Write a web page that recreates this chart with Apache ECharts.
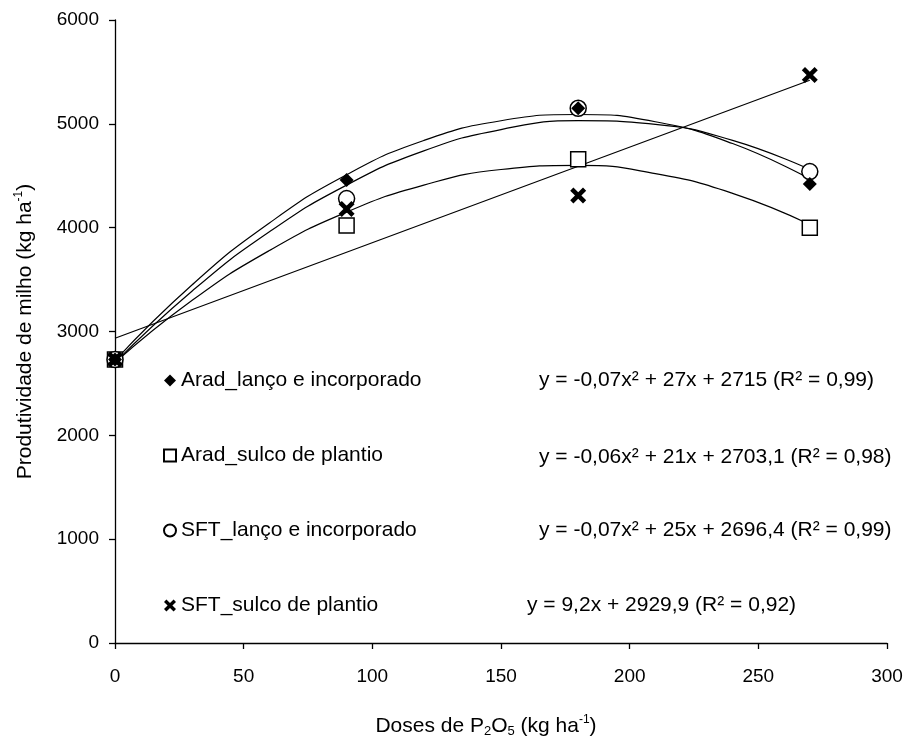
<!DOCTYPE html>
<html>
<head>
<meta charset="utf-8">
<script src="https://cdn.jsdelivr.net/npm/echarts@6/dist/echarts.min.js"></script>
<style>
  html, body { margin: 0; padding: 0; background: #fff; }
  #chart { width: 909px; height: 743px; }
</style>
</head>
<body>
<div id="chart"></div>
<script>
// Observed yields (kg/ha) per P2O5 dose
const doses = [0, 90, 180, 270];
const aradLanco = [2730, 4460, 5150, 4420];
const aradSulco = [2730, 4020, 4660, 4000];
const sftLanco = [2730, 4280, 5150, 4540];
const sftSulco = [2730, 4180, 4310, 5470];

// Trend curves
const trendX = [0, 30, 60, 90, 120, 150, 180, 210, 240, 270];
const trendAradLanco = [2720, 3450, 4045, 4510, 4840, 5030, 5090, 5020, 4810, 4470];
const trendAradSulco = [2700, 3300, 3780, 4150, 4410, 4560, 4600, 4520, 4330, 4030];
const trendSftLanco = [2700, 3390, 3960, 4410, 4740, 4945, 5030, 4995, 4840, 4560];
const lineX = [0, 270];
const trendSftSulco = [2935, 5420];

const seriesNames = [
  "Arad_lanço e incorporado",
  "Arad_sulco de plantio",
  "SFT_lanço e incorporado",
  "SFT_sulco de plantio",
];
const equations = [
  "y = -0,07x² + 27x + 2715 (R² = 0,99)",
  "y = -0,06x² + 21x + 2703,1 (R² = 0,98)",
  "y = -0,07x² + 25x + 2696,4 (R² = 0,99)",
  "y = 9,2x + 2929,9 (R² = 0,92)",
];

const FONT = "Liberation Sans, Arial, sans-serif";
const crossPath = "path://M2,0 L5,3 L8,0 L10,2 L7,5 L10,8 L8,10 L5,7 L2,10 L0,8 L3,5 L0,2 Z";

const pairs = (xs, ys) => ys.map((v, i) => [xs[i], v]);

function trendSeries(xs, ys) {
  return {
    type: "line",
    data: pairs(xs, ys),
    smooth: true,
    showSymbol: false,
    silent: true,
    lineStyle: { color: "#000", width: 1.2 },
    z: 2,
  };
}

const chart = echarts.init(document.getElementById("chart"));

const subRich = {
  sub: { fontSize: 13, lineHeight: 10, verticalAlign: "bottom", fontFamily: FONT, color: "#000" },
  sup: { fontSize: 12, lineHeight: 10, verticalAlign: "top", fontFamily: FONT, color: "#000" },
};

chart.setOption({
  animation: false,
  backgroundColor: "#fff",
  grid: { left: 115, right: 22, top: 20, bottom: 99 },
  xAxis: {
    type: "value",
    min: 0,
    max: 300,
    interval: 50,
    name: "Doses de P{sub|2}O{sub|5} (kg ha{sup|-1})",
    nameLocation: "middle",
    nameGap: 71,
    nameTextStyle: {
      fontSize: 21, lineHeight: 24, color: "#000", fontFamily: FONT,
      padding: [0, 30, 0, 0], rich: subRich,
    },
    axisLine: { lineStyle: { color: "#000", width: 1.3 } },
    axisTick: { show: true, length: 6, lineStyle: { color: "#000", width: 1.3 } },
    axisLabel: { fontSize: 19, color: "#000", fontFamily: FONT, margin: 24 },
    splitLine: { show: false },
  },
  yAxis: {
    type: "value",
    min: 0,
    max: 6000,
    interval: 1000,
    name: "Produtividade de milho (kg ha{sup|-1})",
    nameLocation: "middle",
    nameGap: 78,
    nameTextStyle: { fontSize: 21, lineHeight: 24, color: "#000", fontFamily: FONT, rich: subRich },
    axisLine: { show: true, lineStyle: { color: "#000", width: 1.3 } },
    axisTick: { show: true, length: 6, lineStyle: { color: "#000", width: 1.3 } },
    axisLabel: {
      fontSize: 19, color: "#000", fontFamily: FONT, margin: 16,
      formatter: (v) => String(v),
    },
    splitLine: { show: false },
  },
  legend: {
    data: seriesNames,
    orient: "vertical",
    left: 158,
    top: 364,
    itemWidth: 12,
    itemHeight: 12,
    itemGap: 52,
    textStyle: { fontSize: 21, lineHeight: 23, color: "#000", fontFamily: FONT },
  },
  graphic: equations.map((t, i) => ({
    type: "text",
    left: [539, 539, 539, 527][i],
    top: [370, 447, 520, 595][i],
    style: { text: t, font: "21px " + FONT, fill: "#000" },
  })),
  series: [
    trendSeries(trendX, trendAradLanco),
    trendSeries(trendX, trendAradSulco),
    trendSeries(trendX, trendSftLanco),
    trendSeries(lineX, trendSftSulco),
    {
      name: seriesNames[1], type: "scatter", data: pairs(doses, aradSulco),
      symbol: "rect", symbolSize: 15, z: 3,
      itemStyle: { color: "#fff", borderColor: "#000", borderWidth: 1.5, opacity: 1 },
    },
    {
      name: seriesNames[2], type: "scatter", data: pairs(doses, sftLanco),
      symbol: "circle", symbolSize: 16, z: 4,
      itemStyle: { color: "#fff", borderColor: "#000", borderWidth: 1.5, opacity: 1 },
    },
    {
      name: seriesNames[3], type: "scatter", data: pairs(doses, sftSulco),
      symbol: crossPath, symbolSize: 16, z: 5,
      itemStyle: { color: "#000", opacity: 1 },
    },
    {
      name: seriesNames[0], type: "scatter", data: pairs(doses, aradLanco),
      symbol: "diamond", symbolSize: 14, z: 6,
      itemStyle: { color: "#000", opacity: 1 },
    },
  ],
});
</script>
</body>
</html>
